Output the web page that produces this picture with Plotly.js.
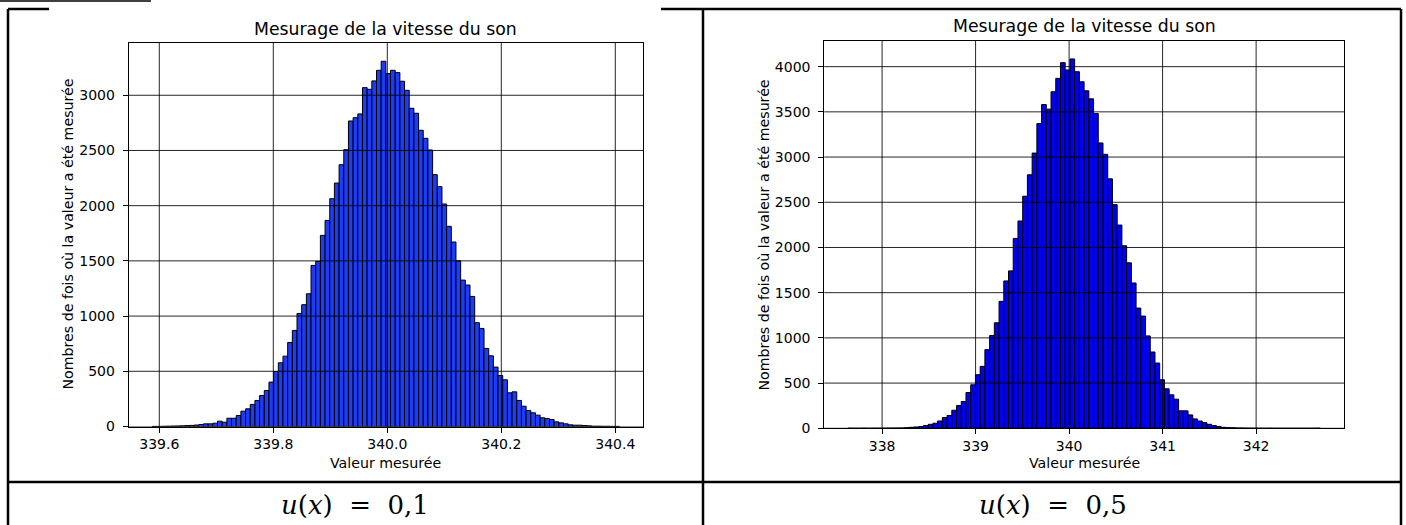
<!DOCTYPE html>
<html><head><meta charset="utf-8">
<script src="https://cdn.plot.ly/plotly-3.0.1.min.js"></script>
<style>html,body{margin:0;padding:0;background:#fff;overflow:hidden}#chart{width:1406px;height:525px}</style>
</head><body><div id="chart"></div>
<script>
// ---------- text ----------
const titleText = 'Mesurage de la vitesse du son';
const xLabel = 'Valeur mesurée';
const yLabel = 'Nombres de fois où la valeur a été mesurée';
const caption1 = '<i>u</i>(<i>x</i>)\u00a0\u00a0=\u00a0\u00a00,1';
const caption2 = '<i>u</i>(<i>x</i>)\u00a0\u00a0=\u00a0\u00a00,5';

// ---------- chart 1 : u(x) = 0,1 (100 bins) ----------
const bins1Start = 339.5873;
const bins1Width = 0.008203;
const counts1 = [1,1,2,3,4,5,6,8,10,13,
  18,24,24,30,48,39,75,75,100,139,
  160,200,236,281,326,402,498,577,637,761,
  870,1024,1103,1202,1459,1495,1731,1867,2063,2205,
  2371,2507,2767,2797,2831,3069,3054,3130,3226,3308,
  3196,3226,3205,3127,3045,2882,2837,2683,2610,2504,
  2281,2172,2015,1813,1671,1501,1326,1281,1178,940,
  888,707,640,538,462,423,305,314,236,184,
  145,124,103,79,73,63,42,33,24,15,
  12,12,9,6,3,3,2,2,1,1];
const xTicks1 = [339.6,339.8,340.0,340.2,340.4];
const yTicks1 = [0,500,1000,1500,2000,2500,3000];
const xRange1 = [339.5463,340.4486];
const yRange1 = [0,3476];

// ---------- chart 2 : u(x) = 0,5 (100 bins) ----------
const bins2Start = 337.634;
const bins2Width = 0.05053;
const counts2 = [1,0,0,1,0,1,1,1,2,2,
  3,4,7,11,15,19,30,44,56,81,
  119,141,200,252,296,396,481,593,685,870,
  1026,1167,1404,1630,1741,2100,2293,2567,2804,3044,
  3370,3581,3530,3722,3870,4044,3963,4085,3944,3833,
  3733,3644,3481,3156,3030,2759,2474,2248,2019,1830,
  1607,1330,1241,1022,844,722,537,437,370,322,
  193,193,148,104,81,63,44,30,19,11,
  8,6,4,3,2,1,1,1,0,1,
  0,0,0,0,0,0,0,0,0,1];
const xTicks2 = [338,339,340,341,342];
const yTicks2 = [0,500,1000,1500,2000,2500,3000,3500,4000];
const xRange2 = [337.382,342.94];
const yRange2 = [0,4287];

// ---------- layout helpers (pixels -> paper) ----------
const W = 1406, H = 525;
const px = v => v / W;
const py = v => 1 - v / H;
const FONT = 'DejaVu Sans, Verdana, sans-serif';

function centers(start, width, n){ const a=[]; for(let i=0;i<n;i++) a.push(start+(i+0.5)*width); return a; }

const traces = [
  {type:'bar', x:centers(bins1Start,bins1Width,counts1.length), y:counts1, width:bins1Width,
   marker:{color:'#1c3cf8', line:{color:'#000', width:1}}, xaxis:'x', yaxis:'y', hoverinfo:'skip'},
  {type:'bar', x:centers(bins2Start,bins2Width,counts2.length), y:counts2, width:bins2Width,
   marker:{color:'#0000f2', line:{color:'#000', width:1}}, xaxis:'x2', yaxis:'y2', hoverinfo:'skip'}
];

function axisBase(){ return {showline:true, linecolor:'#000', linewidth:1, mirror:true,
  ticks:'outside', ticklen:5, tickwidth:1, tickcolor:'#000', showgrid:false, zeroline:false,
  tickfont:{family:FONT, size:14, color:'#000'}, fixedrange:true}; }

const xa1 = Object.assign(axisBase(), {domain:[px(128.7),px(643)], range:xRange1, tickvals:xTicks1, ticktext:xTicks1.map(v=>v.toFixed(1)), anchor:'y'});
const ya1 = Object.assign(axisBase(), {domain:[py(426.5),py(42.7)], range:yRange1, tickvals:yTicks1, ticktext:yTicks1.map(String), anchor:'x', ticklabelstandoff:5});
const xa2 = Object.assign(axisBase(), {domain:[px(824.3),px(1344)], range:xRange2, tickvals:xTicks2, ticktext:xTicks2.map(String), anchor:'y2'});
const ya2 = Object.assign(axisBase(), {domain:[py(428.3),py(40.7)], range:yRange2, tickvals:yTicks2, ticktext:yTicks2.map(String), anchor:'x2', ticklabelstandoff:5});

const shapes = [];
function pline(x0,y0,x1,y1,w){ shapes.push({type:'line', xref:'paper', yref:'paper', x0:px(x0), y0:py(y0), x1:px(x1), y1:py(y1), line:{color:'#000', width:w||2.5}, layer:'below'}); }
function prect(x0,y0,x1,y1,fill){ shapes.push({type:'rect', xref:'paper', yref:'paper', x0:px(x0), y0:py(y0), x1:px(x1), y1:py(y1), line:{width:0}, fillcolor:fill, layer:'below'}); }
// page decorations: table borders and a clipped underline from the previous text
pline(0,1,151,1,1.5);
pline(8,9,1401,9);
pline(8,9,8,525);
pline(703,9,703,525);
pline(1401,9,1401,525);
pline(8,482,1401,482);
// the pasted left chart picture covers part of the table's top border
prect(49,4,661,478,'#ffffff');

// grid drawn above the bars (matplotlib style)
function grid(xt, yt, xr, yr){
  const gl = {color:'rgba(0,0,0,0.85)', width:1};
  xt.forEach(v => shapes.push({type:'line', xref:xr, yref:yr+' domain', x0:v, x1:v, y0:0, y1:1, line:gl, layer:'above'}));
  yt.forEach(v => shapes.push({type:'line', xref:xr+' domain', yref:yr, x0:0, x1:1, y0:v, y1:v, line:gl, layer:'above'}));
}
grid(xTicks1, yTicks1, 'x', 'y');
grid(xTicks2, yTicks2, 'x2', 'y2');

const annotations = [
  {text:titleText, xref:'x domain', yref:'y domain', x:0.5, y:1, yanchor:'bottom', yshift:2, showarrow:false, font:{family:FONT, size:17.3, color:'#000'}},
  {text:titleText, xref:'x2 domain', yref:'y2 domain', x:0.5, y:1, yanchor:'bottom', yshift:3, showarrow:false, font:{family:FONT, size:17.3, color:'#000'}},
  {text:xLabel, xref:'x domain', yref:'paper', x:0.5, y:py(463), yanchor:'middle', showarrow:false, font:{family:FONT, size:14.2, color:'#000'}},
  {text:xLabel, xref:'x2 domain', yref:'paper', x:0.5, y:py(463), yanchor:'middle', showarrow:false, font:{family:FONT, size:14.2, color:'#000'}},
  {text:yLabel, xref:'paper', yref:'y domain', x:px(68), y:0.5, textangle:-90, xanchor:'center', showarrow:false, font:{family:FONT, size:14.2, color:'#000'}},
  {text:yLabel, xref:'paper', yref:'y2 domain', x:px(763), y:0.5, textangle:-90, xanchor:'center', showarrow:false, font:{family:FONT, size:14.2, color:'#000'}},
  {text:caption1, xref:'paper', yref:'paper', x:px(355), y:py(505), xanchor:'center', yanchor:'middle', showarrow:false, font:{family:'DejaVu Serif, serif', size:26, color:'#000'}},
  {text:caption2, xref:'paper', yref:'paper', x:px(1053), y:py(505), xanchor:'center', yanchor:'middle', showarrow:false, font:{family:'DejaVu Serif, serif', size:26, color:'#000'}}
];

const layout = {width:W, height:H, margin:{l:0,r:0,t:0,b:0}, paper_bgcolor:'#fff', plot_bgcolor:'rgba(0,0,0,0)',
  showlegend:false, bargap:0, xaxis:xa1, yaxis:ya1, xaxis2:xa2, yaxis2:ya2, shapes:shapes, annotations:annotations};

Plotly.newPlot('chart', traces, layout, {staticPlot:true, displayModeBar:false});
</script></body></html>
